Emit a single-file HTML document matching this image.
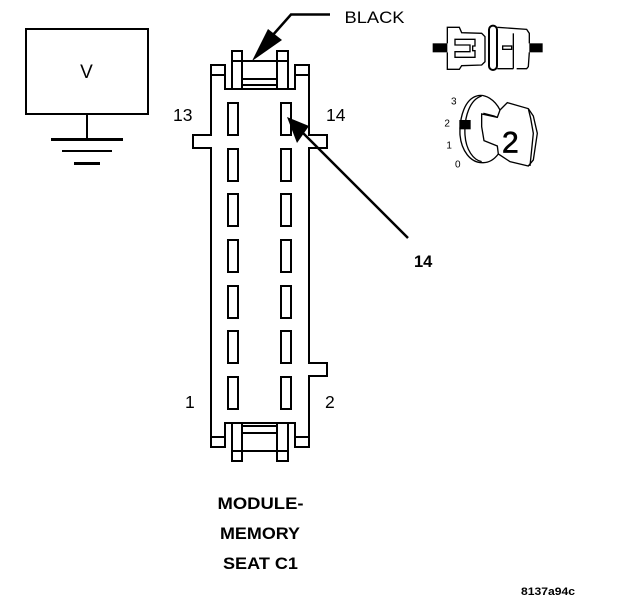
<!DOCTYPE html>
<html>
<head>
<meta charset="utf-8">
<style>
html,body{margin:0;padding:0;background:#fff}
svg{display:block}
text{font-family:"Liberation Sans",sans-serif;fill:#000}
</style>
</head>
<body>
<svg width="624" height="600" viewBox="0 0 624 600" xmlns="http://www.w3.org/2000/svg">
<rect width="624" height="600" fill="#fff"/>

<!-- Voltmeter -->
<g fill="none" stroke="#000" stroke-width="2">
  <rect x="26" y="29" width="122" height="85"/>
  <path d="M87 114V139"/>
  <path d="M51 139.500H123" stroke-width="3"/>
  <path d="M62 151H112"/>
  <path d="M74 163.500H100" stroke-width="3"/>
</g>
<text x="86.500" y="78" font-size="19" text-anchor="middle">V</text>

<!-- Connector body -->
<g fill="none" stroke="#000" stroke-width="2">
  <path d="M225 89V65H211V135H193V148H211V447H225V423H295V447H309V376H327V363H309V148H327V135H309V65H295V89Z"/>
  <path d="M211 75H225M295 75H309M211 437H225M295 437H309"/>
  <!-- top posts -->
  <rect x="232" y="51" width="10" height="38"/>
  <rect x="277" y="51" width="11" height="38"/>
  <path d="M232 61H288M242 79H277M242 85H277"/>
  <!-- bottom posts -->
  <rect x="232" y="423" width="10" height="38"/>
  <rect x="277" y="423" width="11" height="38"/>
  <path d="M232 451H288M242 426H277M242 433H277"/>
  <!-- contacts -->
  <rect x="228" y="103" width="10" height="32"/><rect x="281" y="103" width="10" height="32"/>
  <rect x="228" y="149" width="10" height="32"/><rect x="281" y="149" width="10" height="32"/>
  <rect x="228" y="194" width="10" height="32"/><rect x="281" y="194" width="10" height="32"/>
  <rect x="228" y="240" width="10" height="32"/><rect x="281" y="240" width="10" height="32"/>
  <rect x="228" y="286" width="10" height="32"/><rect x="281" y="286" width="10" height="32"/>
  <rect x="228" y="331" width="10" height="32"/><rect x="281" y="331" width="10" height="32"/>
  <rect x="228" y="377" width="10" height="32"/><rect x="281" y="377" width="10" height="32"/>
</g>

<!-- Arrows -->
<path d="M330 14.500H291L272 36" fill="none" stroke="#000" stroke-width="2.500"/>
<polygon points="252,61 268,29 282,40" fill="#000"/>
<path d="M300 130L408 238" fill="none" stroke="#000" stroke-width="2.500"/>
<polygon points="287,117 309,126 297,143" fill="#000"/>

<!-- Labels -->
<text x="344.500" y="23" font-size="17" textLength="60" lengthAdjust="spacingAndGlyphs">BLACK</text>
<text x="173" y="121" font-size="17.500">13</text>
<text x="326" y="121" font-size="17.500">14</text>
<text x="414" y="267" font-size="16.500" font-weight="bold">14</text>
<text x="185" y="408" font-size="17.500">1</text>
<text x="325" y="408" font-size="17.500">2</text>
<text x="217.500" y="509" font-size="17" font-weight="bold" textLength="86" lengthAdjust="spacingAndGlyphs">MODULE-</text>
<text x="220" y="539" font-size="17" font-weight="bold" textLength="80" lengthAdjust="spacingAndGlyphs">MEMORY</text>
<text x="223" y="569" font-size="17" font-weight="bold" textLength="75" lengthAdjust="spacingAndGlyphs">SEAT C1</text>
<text x="521" y="595" font-size="11" font-weight="bold" textLength="54" lengthAdjust="spacingAndGlyphs">8137a94c</text>

<!-- Top right icons -->
<g transform="translate(420 10) scale(0.3333)">
  <g fill="none" stroke="#000" stroke-width="4">
    <!-- connector icon -->
    <path d="M82 100V52H118L125 68L185 70L195 80V155L185 165L125 167L118 178H82V127"/>
    <path d="M105 88H165V108H158V122H165V142H105V125H150V105H105Z"/>
    <rect x="207" y="47" width="24" height="133" rx="12" stroke-width="6"/>
    <path d="M232 52L320 58L328 70V100M328 127L325 170L320 176H290M280 176H232"/>
    <path d="M280 70V176"/>
    <rect x="248" y="108" width="27" height="10"/>
    <!-- key icon -->
    <path d="M240 300C225 270 195 250 170 258C135 268 118 320 120 375C124 420 150 460 190 458C210 458 225 445 235 432"/>
    <path d="M185 258C150 268 132 320 135 375C138 420 160 450 185 455"/>
    <path d="M240 300L262 278L325 296L340 318L352 370L340 450L325 468L270 455L235 432L232 408L192 392L185 350V312L232 322Z"/>
    <path d="M190 310L222 318L232 322M325 296L332 325L340 370L330 468"/>
  </g>
  <rect x="38" y="100" width="44" height="27"/>
  <rect x="328" y="100" width="40" height="27"/>
  <rect x="118" y="330" width="34" height="28"/>
  <text x="93" y="283" font-size="30">3</text>
  <text x="73" y="349" font-size="30">2</text>
  <text x="79" y="416" font-size="30">1</text>
  <text x="105" y="472" font-size="30">0</text>
  <text x="246" y="428" font-size="90" stroke="#000" stroke-width="2">2</text>
</g>
</svg>
</body>
</html>
